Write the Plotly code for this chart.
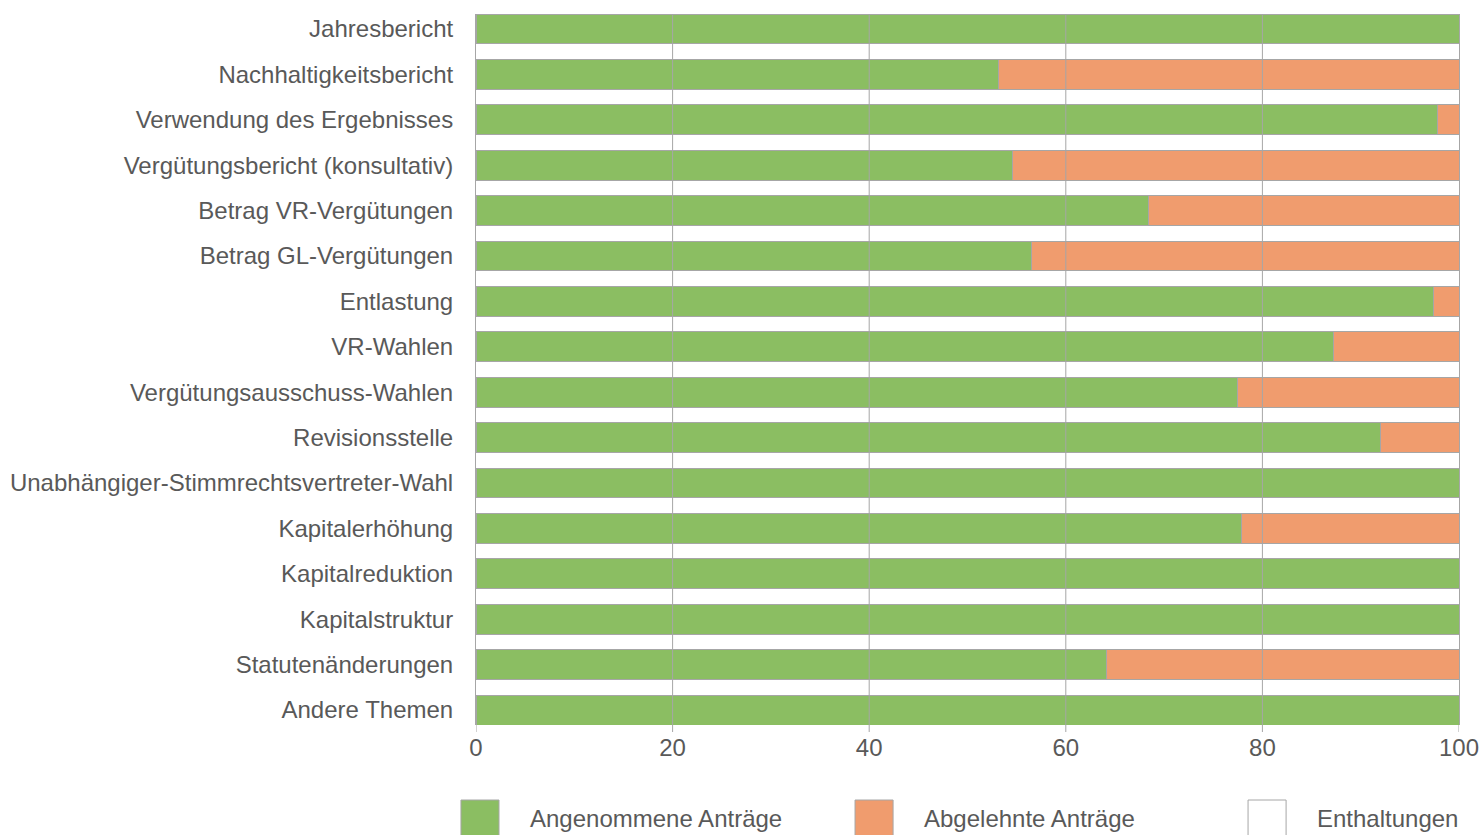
import plotly.graph_objects as go

categories = [
    "Jahresbericht",
    "Nachhaltigkeitsbericht",
    "Verwendung des Ergebnisses",
    "Vergütungsbericht (konsultativ)",
    "Betrag VR-Vergütungen",
    "Betrag GL-Vergütungen",
    "Entlastung",
    "VR-Wahlen",
    "Vergütungsausschuss-Wahlen",
    "Revisionsstelle",
    "Unabhängiger-Stimmrechtsvertreter-Wahl",
    "Kapitalerhöhung",
    "Kapitalreduktion",
    "Kapitalstruktur",
    "Statutenänderungen",
    "Andere Themen",
]
angenommen = [100, 53.2, 97.8, 54.6, 68.4, 56.5, 97.4, 87.2, 77.5, 92.0, 100, 77.9, 100, 100, 64.1, 100]
abgelehnt = [round(100 - a, 1) for a in angenommen]
enthaltungen = [0] * len(categories)
series_names = ["Angenommene Anträge", "Abgelehnte Anträge", "Enthaltungen"]
tick_vals = [0, 20, 40, 60, 80, 100]

GREEN = "#8BBE62"
ORANGE = "#F09C6E"
WHITE = "#FFFFFF"
GREY = "#A6A6A6"
TEXT = "#595959"
FONT = "Liberation Sans, Arial, sans-serif"
FS = 24

colors = [GREEN, ORANGE, WHITE]
fig = go.Figure()
for name, vals, col in zip(series_names, [angenommen, abgelehnt, enthaltungen], colors):
    fig.add_trace(go.Bar(
        y=categories, x=vals, name=name, orientation="h",
        marker=dict(color=col, line=dict(color=GREY, width=1)),
        width=0.66, showlegend=False,
    ))

n = len(categories)
fig.update_layout(
    barmode="stack",
    width=1481, height=835,
    margin=dict(l=476, r=22, t=14, b=110),
    paper_bgcolor="white", plot_bgcolor="white",
    font=dict(family=FONT, size=FS, color=TEXT),
    xaxis=dict(range=[0, 100], tickvals=tick_vals, showgrid=False, zeroline=False,
               ticks="", showline=False, automargin=False, ticklabelstandoff=6,
               tickfont=dict(size=FS, color=TEXT)),
    yaxis=dict(categoryorder="array", categoryarray=categories, type="category",
               range=[n - 1 + 0.33, -0.33], showgrid=False, zeroline=False,
               showline=True, mirror=True, linecolor=GREY, linewidth=1,
               automargin=False, ticks="", ticklabelstandoff=17,
               tickfont=dict(size=FS, color=TEXT)),
)

# vertical gridlines drawn above bars, plus tick marks below the axis
for v in tick_vals:
    if 0 < v < 100:
        fig.add_shape(type="line", xref="x", yref="paper", x0=v, x1=v, y0=0, y1=1,
                      line=dict(color=GREY, width=1), layer="above")
    fig.add_shape(type="line", xref="x", yref="paper", x0=v, x1=v, y0=0, y1=-7 / 711,
                  line=dict(color=GREY, width=1), layer="above")

# custom legend
legend_x = [-0.0153, 0.3856, 0.7854]
sq_w = 0.0387
for lx, name, col in zip(legend_x, series_names, colors):
    fig.add_shape(type="rect", xref="paper", yref="paper",
                  x0=lx, x1=lx + sq_w, y0=-0.1055, y1=-0.159,
                  fillcolor=col, line=dict(color=GREY, width=1))
    fig.add_annotation(xref="paper", yref="paper", x=lx + sq_w + 0.0295, y=-0.1322,
                       text=name, showarrow=False, xanchor="left", yanchor="middle",
                       font=dict(size=FS, color=TEXT, family=FONT))

fig.write_html("out.html", config={"displayModeBar": False},
               post_script="document.body.style.margin='0';")
